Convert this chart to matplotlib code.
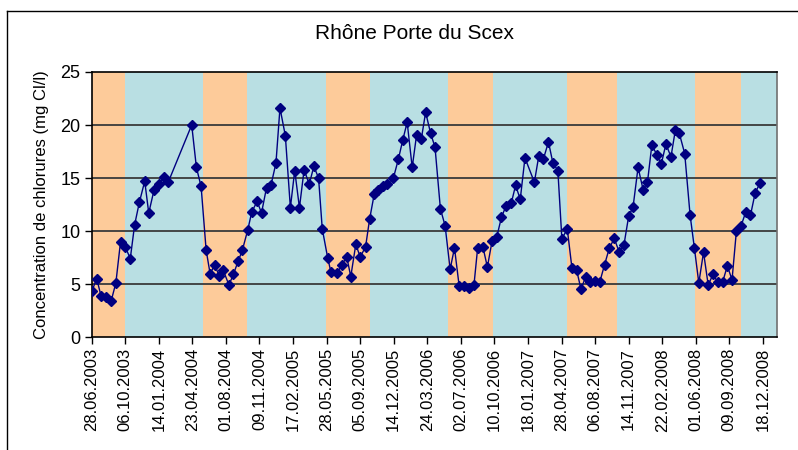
import matplotlib
matplotlib.use("Agg")
import matplotlib.pyplot as plt
import matplotlib.dates as mdates
from matplotlib.lines import Line2D
import pandas as pd

plt.rcParams['font.family'] = ['Liberation Sans', 'DejaVu Sans']

title = "Rhône Porte du Scex"
ylabel = "Concentration de chlorures (mg Cl/l)"
start_date = "2003-06-28"

# sampling day offsets from 28.06.2003 and chloride concentrations (mg Cl/l)
days = [0, 15, 28, 42, 58, 72, 86, 100, 115, 128, 142, 158, 170, 186, 200, 214, 228,
        298, 312, 326, 341, 353, 366, 380, 392, 409, 422, 437, 449, 465, 477, 493, 506,
        521, 534, 549, 561, 577, 592, 605, 619, 633, 648, 662, 676, 687, 703, 713, 731,
        745, 760, 772, 787, 800, 816, 828, 842, 854, 869, 879, 899, 914, 927, 940, 955,
        968, 982, 995, 1010, 1023, 1039, 1053, 1068, 1081, 1095, 1110, 1124, 1139, 1150,
        1166, 1179, 1193, 1207, 1221, 1235, 1250, 1263, 1277, 1291, 1319, 1332, 1346,
        1361, 1374, 1389, 1401, 1417, 1431, 1445, 1458, 1472, 1486, 1500, 1514, 1528,
        1542, 1557, 1572, 1586, 1600, 1613, 1628, 1643, 1656, 1669, 1684, 1697, 1711,
        1726, 1739, 1751, 1767, 1783, 1796, 1809, 1823, 1837, 1851, 1865, 1880, 1894,
        1908, 1921, 1935, 1949, 1963, 1977, 1991]
values = [4.3, 5.5, 3.85, 3.8, 3.4, 5.1, 9.0, 8.5, 7.4, 10.6, 12.7, 14.7, 11.7, 13.9, 14.4, 15.1, 14.6,
          20.0, 16.0, 14.2, 8.2, 5.95, 6.8, 5.8, 6.3, 4.9, 5.9, 7.2, 8.2, 10.1, 11.8, 12.8, 11.7,
          14.1, 14.3, 16.4, 21.6, 19.0, 12.2, 15.7, 12.2, 15.8, 14.4, 16.1, 15.0, 10.2, 7.5, 6.1, 6.0,
          6.8, 7.55, 5.7, 8.75, 7.55, 8.5, 11.1, 13.5, 13.9, 14.2, 14.4, 15.0, 16.8, 18.6, 20.25, 16.0,
          19.05, 18.65, 21.2, 19.2, 17.9, 12.1, 10.5, 6.4, 8.4, 4.8, 4.8, 4.65, 4.9, 8.4,
          8.45, 6.6, 9.05, 9.45, 11.3, 12.4, 12.6, 14.3, 13.0, 16.9, 14.6, 17.05, 16.8,
          18.4, 16.45, 15.7, 9.25, 10.2, 6.5, 6.3, 4.5, 5.7, 5.2, 5.3, 5.2, 6.8,
          8.35, 9.3, 8.0, 8.7, 11.4, 12.25, 16.0, 13.9, 14.6, 18.1, 17.2, 16.3, 18.2,
          17.0, 19.5, 19.2, 17.3, 11.5, 8.35, 5.1, 8.0, 4.9, 5.9, 5.2, 5.2, 6.7,
          5.4, 10.0, 10.5, 11.8, 11.5, 13.6, 14.5]

# season bands (day offsets): orange = summer period
orange_start = [0, 333, 699, 1062, 1417, 1799]
orange_end = [99, 463, 829, 1196, 1565, 1935]
x_end_day = 2042
tick_step_days = 100
n_ticks = 21

yticks = [0, 5, 10, 15, 20, 25]

t0 = pd.Timestamp(start_date)
dates = [t0 + pd.Timedelta(days=d) for d in days]

fig = plt.figure(figsize=(7.98, 4.5), dpi=100)
ax = fig.add_axes([0.1149, 0.2511, 0.8588, 0.5889])

ax.set_facecolor('#B9DFE3')
for s, e in zip(orange_start, orange_end):
    ax.axvspan(t0 + pd.Timedelta(days=s), t0 + pd.Timedelta(days=e),
               color='#FDCB9A', lw=0, zorder=0)

for yv in yticks[1:-1]:
    ax.axhline(yv, color='#3a3a3a', lw=1.3, zorder=1)

ax.plot(dates, values, color='#000080', lw=1.0, marker='D', markersize=4.8,
        markerfacecolor='#000080', markeredgecolor='#000080', zorder=3)

ax.set_xlim(t0, t0 + pd.Timedelta(days=x_end_day))
ax.set_ylim(0, 25)
ax.set_yticks(yticks)

tick_dates = [t0 + pd.Timedelta(days=tick_step_days * k) for k in range(n_ticks)]
ax.set_xticks(tick_dates)
ax.xaxis.set_major_formatter(mdates.DateFormatter('%d.%m.%Y'))
plt.setp(ax.get_xticklabels(), rotation=90)

ax.tick_params(axis='x', direction='out', length=5, width=1, labelsize=12, pad=3)
ax.tick_params(axis='y', direction='out', length=5, width=1, labelsize=13, pad=3)

for side in ['left', 'bottom', 'top']:
    ax.spines[side].set_color('#000000')
    ax.spines[side].set_linewidth(1.2)
ax.spines['right'].set_color('#707070')
ax.spines['right'].set_linewidth(1.2)

ax.set_ylabel(ylabel, fontsize=12, labelpad=8)
fig.text(0.519, 0.925, title, ha='center', va='center', fontsize=15)

# outer chart frame
fig.add_artist(Line2D([7 / 798, 7 / 798], [0, 1 - 10.5 / 450], color='black', lw=1.0,
                      transform=fig.transFigure))
fig.add_artist(Line2D([7 / 798, 1], [1 - 10.5 / 450, 1 - 10.5 / 450], color='black', lw=1.0,
                      transform=fig.transFigure))

fig.savefig('out.png', dpi=100)
